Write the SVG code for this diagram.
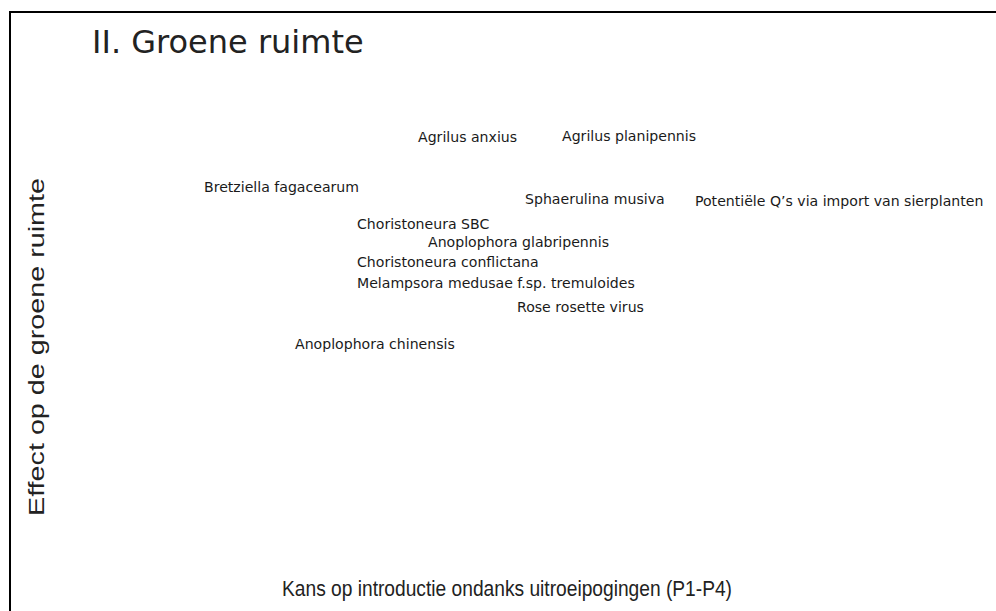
<svg xmlns="http://www.w3.org/2000/svg" width="996" height="611" viewBox="0 0 996 611">
  <style>
    .frame { fill: none; stroke: #000; stroke-width: 2; }
    .title { font-family: "DejaVu Sans", Verdana, sans-serif; font-size: 32px; fill: #222; }
    .axis { font-family: "Liberation Sans", Arial, sans-serif; font-size: 22px; fill: #222; }
    .lbl { font-family: "DejaVu Sans", Verdana, sans-serif; font-size: 14.1px; fill: #1a1a1a; }
  </style>
  <rect width="996" height="611" fill="#fff"/>

  <!-- open frame: left and top edges only -->
  <path class="frame" d="M10 611 V12 H996"/>

  <text class="title" x="92" y="53">II. Groene ruimte</text>

  <!-- axis titles -->
  <g id="axes">
    <text class="axis" x="282" y="596" textLength="450" lengthAdjust="spacingAndGlyphs">Kans op introductie ondanks uitroeipogingen (P1-P4)</text>
    <text class="axis" transform="translate(44,516) rotate(-90)" textLength="338" lengthAdjust="spacingAndGlyphs">Effect op de groene ruimte</text>
  </g>

  <!-- plotted organisms -->
  <g id="agrilus-anxius"><text class="lbl" x="418" y="142">Agrilus anxius</text></g>
  <g id="agrilus-planipennis"><text class="lbl" x="562" y="141">Agrilus planipennis</text></g>
  <g id="bretziella-fagacearum"><text class="lbl" x="204" y="192">Bretziella fagacearum</text></g>
  <g id="sphaerulina-musiva"><text class="lbl" x="525" y="204">Sphaerulina musiva</text></g>
  <g id="sierplanten"><text class="lbl" x="695" y="206">Potentiële Q’s via import van sierplanten</text></g>
  <g id="choristoneura-sbc"><text class="lbl" x="357" y="229">Choristoneura SBC</text></g>
  <g id="anoplophora-glabripennis"><text class="lbl" x="428" y="247">Anoplophora glabripennis</text></g>
  <g id="choristoneura-conflictana"><text class="lbl" x="357" y="267">Choristoneura conflictana</text></g>
  <g id="melampsora-medusae"><text class="lbl" x="357" y="288">Melampsora medusae f.sp. tremuloides</text></g>
  <g id="rose-rosette-virus"><text class="lbl" x="517" y="312">Rose rosette virus</text></g>
  <g id="anoplophora-chinensis"><text class="lbl" x="295" y="349">Anoplophora chinensis</text></g>
</svg>
